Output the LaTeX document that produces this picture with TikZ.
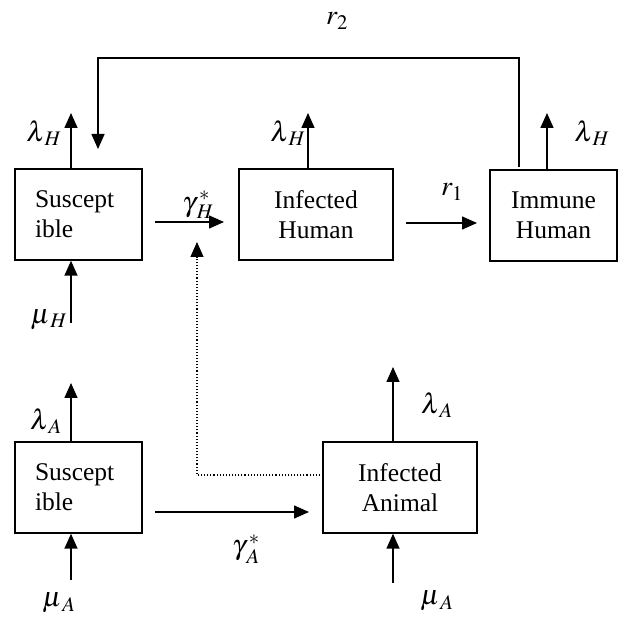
\documentclass[tikz,border=0pt]{standalone}
\usepackage{mathptmx}
\usepackage{fontspec}
\setmainfont{Liberation Serif}
\usetikzlibrary{arrows.meta}
\begin{document}
\begin{tikzpicture}[x=1pt,y=-1pt,
  box/.style={draw, line width=1.4pt, minimum width=127pt, minimum height=91pt, inner sep=0pt,
    font=\fontsize{25.5}{30}\selectfont, align=center},
  wbox/.style={box, minimum width=154pt},
  lbox/.style={box, text width=87pt, align=left},
  arr/.style={line width=1.5pt, -{Triangle[length=15pt,width=13pt]}},
  dotarr/.style={line width=1.1pt, dotted, -{Triangle[length=15pt,width=13pt]}},
  lab/.style={font=\fontsize{28}{32}\selectfont, inner sep=0pt}]
\useasboundingbox (0,0) rectangle (619,617);
% boxes
\node[lbox] (sh) at (78.5,214.5) {Suscept\\ible};
\node[wbox] (ih) at (316,214.5) {Infected\\Human};
\node[box] (imh) at (553.5,215.5) {Immune\\Human};
\node[lbox] (sa) at (78.5,487.5) {Suscept\\ible};
\node[wbox] (ia) at (400,487.5) {Infected\\Animal};
% free ends
\coordinate (lshT) at (71,113);
\coordinate (lihT) at (308,113);
\coordinate (limT) at (547,113);
\coordinate (fbR) at (519,58);
\coordinate (fbL) at (98,58);
\coordinate (fbT) at (98,149);
\coordinate (gHs) at (155,222);
\coordinate (gHe) at (224,222);
\coordinate (r1s) at (406,223);
\coordinate (r1e) at (477,223);
\coordinate (muHs) at (71,323);
\coordinate (dotS) at (323,475);
\coordinate (dotC) at (197,475);
\coordinate (dotT) at (197,242);
\coordinate (lsaT) at (71,383);
\coordinate (muAs) at (71,580);
\coordinate (gAs) at (155,512);
\coordinate (gAe) at (309,512);
\coordinate (liaT) at (393,367);
\coordinate (muAi) at (393,583);
% connectors
\draw[arr] (sh.north -| lshT) -- (lshT);
\draw[arr] (ih.north -| lihT) -- (lihT);
\draw[arr] (imh.north -| limT) -- (limT);
\draw[arr] ([yshift=2pt]imh.north -| fbR) -- (fbR) -- (fbL) -- (fbT);
\draw[arr] (gHs) -- (gHe);
\draw[arr] (r1s) -- (r1e);
\draw[arr] (muHs) -- (sh.south -| muHs);
\draw[dotarr] (dotS) -- (dotC) -- (dotT);
\draw[arr] (sa.north -| lsaT) -- (lsaT);
\draw[arr] (muAs) -- (sa.south -| muAs);
\draw[arr] (gAs) -- (gAe);
\draw[arr] (ia.north -| liaT) -- (liaT);
\draw[arr] (muAi) -- (ia.south -| muAi);
% labels
\node[lab] (lr2) at (337,21) {$r_{2}$};
\node[lab] (lr1) at (452,192) {$r_{1}$};
\node[lab] (l1) at (44,133) {$\lambda_{\kern3pt H}$};
\node[lab] (l2) at (288,133) {$\lambda_{\kern3pt H}$};
\node[lab] (l3) at (592,133) {$\lambda_{\kern3pt H}$};
\node[lab] (g1) at (198,205) {$\gamma_{\kern3pt H}^{\kern3pt *}$};
\node[lab] (m1) at (49,320) {$\mu_{\kern3pt H}$};
\node[lab] (l4) at (46,421) {$\lambda_{\kern3pt A}$};
\node[lab] (l5) at (437,405) {$\lambda_{\kern3pt A}$};
\node[lab] (g2) at (246,549) {$\gamma_{\kern3pt A}^{\kern3pt *}$};
\node[lab] (m2) at (59,603) {$\mu_{\kern3pt A}$};
\node[lab] (m3) at (437,601) {$\mu_{\kern3pt A}$};
\end{tikzpicture}
\end{document}
